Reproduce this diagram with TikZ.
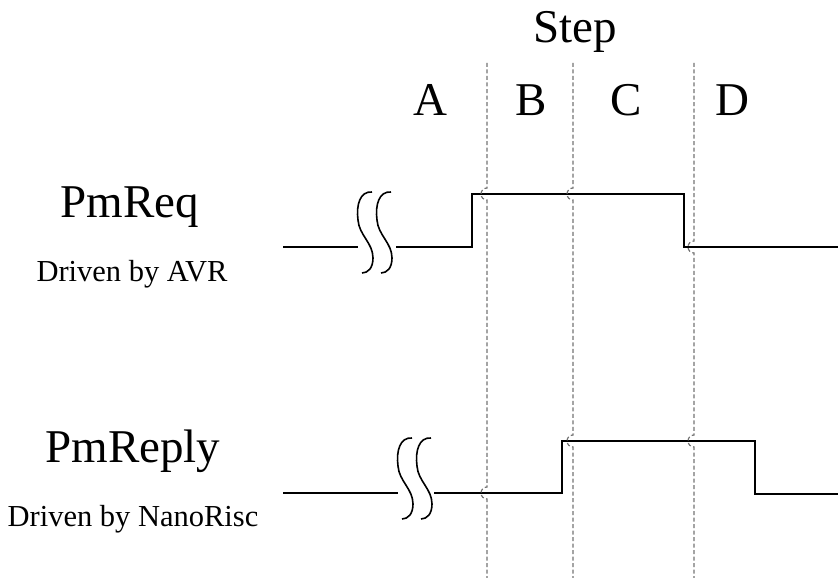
\documentclass[tikz,border=0pt]{standalone}
\usepackage{fontspec}
\setmainfont{Liberation Serif}
\definecolor{stepgray}{RGB}{115,115,115}

\begin{document}
\begin{tikzpicture}[x=1pt,y=-1pt,
    big/.style={font=\fontsize{47}{50}\selectfont, anchor=base, inner sep=0pt},
    small/.style={font=\fontsize{30.5}{33}\selectfont, anchor=base, inner sep=0pt},
    wave/.style={line width=2pt, line join=miter},
    brk/.style={line width=1.6pt},
    stepline/.style={stepgray, line width=1.2pt, dash pattern=on 4pt off 2.5pt}]

  \useasboundingbox (0,0) rectangle (838,578);

  \node[big] (step) at (575,43) {Step};
  \node[big] (A) at (430,115) {A};
  \node[big] (B) at (531,115) {B};
  \node[big] (C) at (626,115) {C};
  \node[big] (D) at (732,115) {D};

  \node[big] (req) at (130,217) {PmReq};
  \node[small] (reqby) at (132,281) {Driven by AVR};
  \node[big] (reply) at (133,462) {PmReply};
  \node[small] (replyby) at (133,526) {Driven by NanoRisc};

  \draw[wave] (283,247) -- (358,247);
  \draw[wave] (396,247) -- (472,247) -- (472,194) -- (684,194) -- (684,247) -- (838,247);
  \draw[wave] (283,493) -- (398,493);
  \draw[wave] (434,493) -- (562,493) -- (562,441) -- (755,441) -- (755,494) -- (838,494);

  \foreach \bx/\by in {372/192, 391/192, 412/438, 431/438}
    \draw[brk] (\bx,\by) .. controls (\bx-12,\by-1) and (\bx-16,\by+13) .. (\bx-14,\by+28)
      .. controls (\bx-13,\by+43) and (\bx+1,\by+51) .. (\bx+1,\by+66)
      .. controls (\bx+1,\by+76) and (\bx-4,\by+81) .. (\bx-10,\by+81);

  \foreach \x/\ya/\yb in {487/194/493, 573/194/441, 694/247/441}
    \draw[stepline] (\x,63) -- (\x,\ya-6) arc[start angle=-90, end angle=-270, radius=6]
      -- (\x,\yb-6) arc[start angle=-90, end angle=-270, radius=6] -- (\x,578);

\end{tikzpicture}
\end{document}
